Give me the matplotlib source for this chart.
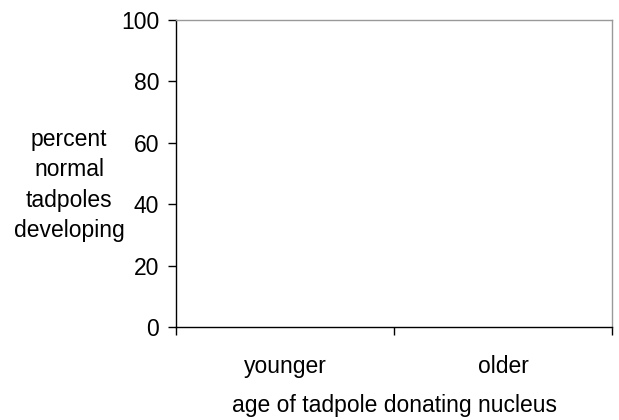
import matplotlib.pyplot as plt

categories = ['younger', 'older']
percent_normal = [0, 0]
y_ticks = [0, 20, 40, 60, 80, 100]

plt.rcParams['font.family'] = ['Liberation Sans', 'DejaVu Sans']
fs = 16.5

fig = plt.figure(figsize=(6.19, 4.2), dpi=100)
ax = fig.add_axes([176 / 619, 1 - 327 / 420, (612 - 176) / 619, (327 - 20) / 420])

pos = list(range(len(categories)))
ax.bar(pos, percent_normal, width=0.6, color='#9999ff', linewidth=0)

ax.set_xlim(-0.5, len(categories) - 0.5)
ax.set_ylim(0, 100)
ax.set_yticks(y_ticks)
ax.set_yticklabels([str(t) for t in y_ticks], fontsize=fs)

# tick marks between categories, labels centred under them
ax.set_xticks([-0.5, 0.5, 1.5])
ax.set_xticklabels([])
ax.set_xticks(pos, minor=True)
ax.set_xticklabels(categories, minor=True, fontsize=fs)
ax.tick_params(axis='x', which='minor', length=0, pad=20)
ax.tick_params(axis='x', which='major', length=6, width=1, direction='out')
ax.tick_params(axis='y', length=6, width=1, direction='out', pad=6)

for side in ['top', 'right']:
    ax.spines[side].set_color('#999999')
    ax.spines[side].set_linewidth(1)
for side in ['left', 'bottom']:
    ax.spines[side].set_color('black')
    ax.spines[side].set_linewidth(1)

ax.set_xlabel('age of tadpole donating nucleus', fontsize=fs, labelpad=12)
ax.set_ylabel('percent\nnormal\ntadpoles\ndeveloping', fontsize=fs, rotation=0,
              ha='center', va='center', linespacing=1.42)
ax.yaxis.set_label_coords(-0.245, 0.463)

fig.savefig('out.png', dpi=100)
